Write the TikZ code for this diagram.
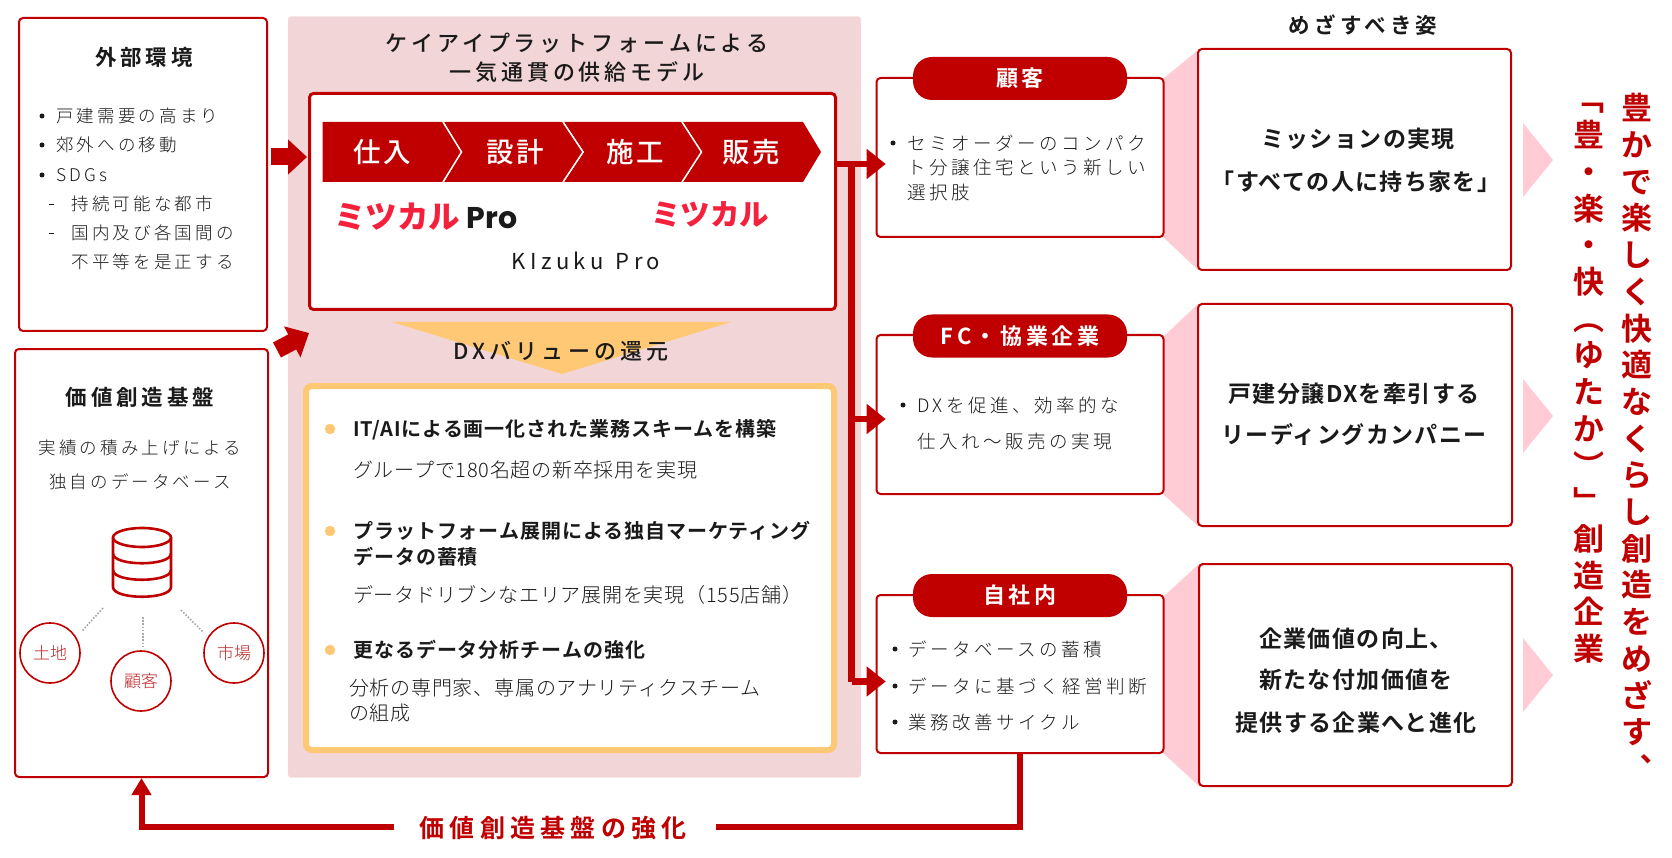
\documentclass[tikz,border=0pt]{standalone}
\usepackage{fontspec}
\usetikzlibrary{arrows.meta}
\setmainfont{Noto Sans CJK JP}
\newfontfamily\jr{Noto Sans CJK JP}
\newfontfamily\jl{Noto Sans CJK JP Light}
\newfontfamily\jm{Noto Sans CJK JP Medium}
\newfontfamily\jb{Noto Sans CJK JP Bold}
\newfontfamily\jk{Noto Sans CJK JP Black}
\newfontfamily\ppn{Poppins}
\definecolor{dred}{HTML}{C00000}
\definecolor{panelpink}{HTML}{F2D5D6}
\definecolor{softpink}{HTML}{FFCCD5}
\definecolor{amber}{HTML}{FFC875}
\definecolor{ink}{HTML}{1A1A1A}
\definecolor{logored}{HTML}{F5203C}
\newcommand{\sz}[2]{\fontsize{#1}{#2}\selectfont}
\newcommand{\ls}[1]{\addfontfeature{LetterSpace=#1}}
\tikzset{
  txt/.style={inner sep=0pt,text=ink,execute at begin node={\rule[-.12em]{0pt}{1em}}},
  ltxt/.style={txt,anchor=west},
  redbox/.style={draw=dred,line width=2pt,rounded corners=4pt,fill=white,inner sep=0pt},
  pill/.style={txt,text=white,fill=dred,rounded corners=19pt,minimum width=214pt,minimum height=43pt,font=\jb\sz{22}{26}\ls{16}},
  body/.style={ltxt,font=\jl\sz{18.5}{22}\ls{19}},
  bodyb/.style={ltxt,font=\jl\sz{17.5}{22}\ls{18}},
  head/.style={txt,font=\jb\sz{21.5}{26}\ls{18}},
  chev/.style={txt,text=white,font=\jm\sz{27.5}{34}\ls{10}},
  bullet/.style={fill=ink,circle,minimum size=5pt,inner sep=0pt},
  dashmark/.style={fill=ink,minimum width=5pt,minimum height=1.2pt,inner sep=0pt},
  odot/.style={fill=amber,circle,minimum size=10.5pt,inner sep=0pt},
  obold/.style={ltxt,font=\jb\sz{20}{24}\ls{4.8}},
  olight/.style={ltxt,font=\jl\sz{20}{24}\ls{3.8}},
  bigt/.style={txt,font=\jb\sz{23}{26}\ls{6}},
  circ/.style={circle,draw=dred,line width=1.6pt,minimum size=60pt,inner sep=0pt,fill=white,text=red!70!black!85,font=\jl\sz{17}{20}},
  busline/.style={draw=dred,line width=6.5pt},
  bustip/.style={-{Triangle[length=19pt,width=29pt]}},
  blockarrow/.style={draw=dred,line width=17pt,-{Triangle[length=19pt,width=34pt]}},
  feedback/.style={draw=dred,line width=6pt},
  dotline/.style={draw=black!35,line width=1.6pt,dash pattern=on 1.6pt off 1.6pt},
  vcol/.style={inner sep=0pt,align=center,text=dred,font=\jb\sz{31}{36.7}}
}
\begin{document}
\begin{tikzpicture}[x=1pt,y=-1pt]
\useasboundingbox (0,0) rectangle (1672,858);
% panel
\node[fill=panelpink,rounded corners=3pt,minimum width=573pt,minimum height=761pt,inner sep=0pt] (panel) at (574.5,397) {};
% left boxes
\node[redbox,minimum width=248pt,minimum height=313pt] (ext) at (143,174.5) {};
\node[redbox,minimum width=253pt,minimum height=428pt] (base) at (141.5,563) {};
\node[head] (extT) at (144,57) {外部環境};
\node[bullet] (b1) at (42,116) {}; \node[bodyb] (b1t) at (56,116) {戸建需要の高まり};
\node[bullet] (b2) at (42,145) {}; \node[bodyb] (b2t) at (56,145) {郊外への移動};
\node[bullet] (b3) at (42,175) {}; \node[bodyb] (b3t) at (56,175) {SDGs};
\node[dashmark] (d1) at (51,204.5) {}; \node[bodyb] (d1t) at (71.5,204) {持続可能な都市};
\node[dashmark] (d2) at (51,233.5) {}; \node[bodyb] (d2t) at (71.5,233) {国内及び各国間の};
\node[bodyb] (d3t) at (71.5,262) {不平等を是正する};
\node[head] (baseT) at (140,397) {価値創造基盤};
\node[txt,font=\jl\sz{17.5}{22}\ls{18}] (baseA) at (140,448) {実績の積み上げによる};
\node[txt,font=\jl\sz{17.5}{22}\ls{18}] (baseB) at (140,482) {独自のデータベース};
% database icon
\begin{scope}[line width=2.6pt]
\draw[dred] (142,537.5) ellipse [x radius=29,y radius=9.5];
\draw[dred] (113,537.5) -- (113,587) .. controls (113,600) and (171,600) .. (171,587) -- (171,537.5);
\draw[dred] (113,553.5) .. controls (113,566.5) and (171,566.5) .. (171,553.5);
\draw[dred] (113,570) .. controls (113,583) and (171,583) .. (171,570);
\end{scope}
\coordinate (dbL) at (103,608); \coordinate (dbC) at (143,617); \coordinate (dbR) at (181,610);
\coordinate (leL) at (82,631); \coordinate (leC) at (143,647); \coordinate (leR) at (203,632);
\draw[dotline] (dbL) -- (leL);
\draw[dotline] (dbC) -- (leC);
\draw[dotline] (dbR) -- (leR);
\node[circ] (land) at (50,653) {土地};
\node[circ] (cust) at (141,681) {顧客};
\node[circ] (mkt) at (234,653) {市場};
% platform
\node[txt,font=\jm\sz{22}{26}\ls{18}] (tt1) at (577,43) {ケイアイプラットフォームによる};
\node[txt,font=\jm\sz{22}{26}\ls{18}] (tt2) at (577,72) {一気通貫の供給モデル};
\node[draw=dred,line width=3pt,rounded corners=4pt,fill=white,minimum width=526pt,minimum height=216pt,inner sep=0pt] (plat) at (572.5,201.5) {};
\fill[dred] (322.5,122) -- (443,122) -- (461,152) -- (443,182) -- (322.5,182) -- cycle;
\fill[dred] (444,122) -- (563,122) -- (583,152) -- (563,182) -- (444,182) -- (462,152) -- cycle;
\fill[dred] (564,122) -- (682,122) -- (701,152) -- (682,182) -- (564,182) -- (584,152) -- cycle;
\fill[dred] (683,122) -- (803,122) -- (821,152) -- (803,182) -- (683,182) -- (702,152) -- cycle;
\draw[white,line width=1.5pt] (443,122) -- (461.5,152) -- (443,182);
\draw[white,line width=1.5pt] (563,122) -- (583,152) -- (563,182);
\draw[white,line width=1.5pt] (682,122) -- (701.5,152) -- (682,182);
\node[chev] (c1) at (382,152) {仕入};
\node[chev] (c2) at (515.5,152) {設計};
\node[chev] (c3) at (635,152) {施工};
\node[chev] (c4) at (751,152) {販売};
\node[inner sep=0pt,text=logored,font=\jk\sz{31.5}{34}] (lg1) at (397,217) {ミツカル};
\node[inner sep=0pt,text=ink,font=\ppn\bfseries\sz{30}{34}] (lg1b) at (492,218) {Pro};
\node[inner sep=0pt,text=logored,font=\jk\sz{29.5}{34}] (lg2) at (710,214) {ミツカル};
\node[txt,font=\jr\sz{22}{26}\ls{20}] (kz) at (586,261) {KIzuku\hspace{3pt} Pro};
% DX triangle
\fill[amber] (392,322) -- (731,322) -- (562,374) -- cycle;
\node[txt,font=\jm\sz{22}{26}\ls{19}] (dx) at (561,351) {DXバリューの還元};
% orange box
\node[draw=amber,line width=6pt,rounded corners=6pt,fill=white,minimum width=528pt,minimum height=364pt,inner sep=0pt] (obox) at (570,568) {};
\node[odot] (o1) at (330,429) {};
\node[odot] (o2) at (330,531) {};
\node[odot] (o3) at (330,650) {};
\node[obold] (o1a) at (353,430) {IT/AIによる画一化された業務スキームを構築};
\node[olight] (o1b) at (353,470) {グループで180名超の新卒採用を実現};
\node[obold] (o2a) at (353,531) {プラットフォーム展開による独自マーケティング};
\node[obold] (o2b) at (353,557) {データの蓄積};
\node[olight] (o2c) at (353,595) {データドリブンなエリア展開を実現（155店舗）};
\node[obold] (o3a) at (353,650) {更なるデータ分析チームの強化};
\node[olight] (o3b) at (349,688) {分析の専門家、専属のアナリティクスチーム};
\node[olight] (o3c) at (349,713) {の組成};
% trapezoids
\fill[softpink] (1163,79) -- (1198,50) -- (1198,270) -- (1163,237) -- cycle;
\fill[softpink] (1163,337) -- (1198,304) -- (1198,526) -- (1163,494) -- cycle;
\fill[softpink] (1163,597) -- (1199,564) -- (1199,786) -- (1163,753) -- cycle;
% customer boxes
\node[redbox,minimum width=287pt,minimum height=159pt] (ca) at (1020,157.5) {};
\node[redbox,minimum width=287pt,minimum height=159pt] (cb) at (1020,414.5) {};
\node[redbox,minimum width=287pt,minimum height=158pt] (cc) at (1020,674) {};
\node[pill] (pa) at (1020,78.5) {顧客};
\node[pill] (pb) at (1020,336) {FC・協業企業};
\node[pill] (pc) at (1020,595.5) {自社内};
\node[bullet] (ab) at (893,143) {};
\node[body] (a1) at (907,143) {セミオーダーのコンパク};
\node[body] (a2) at (907,167) {ト分譲住宅という新しい};
\node[body] (a3) at (907,192) {選択肢};
\node[bullet] (bb) at (903,405) {};
\node[body] (b1x) at (917,405) {DXを促進、効率的な};
\node[body] (b2x) at (917,441) {仕入れ～販売の実現};
\node[bullet] (cb1) at (895,649) {}; \node[body] (c1x) at (908,649) {データベースの蓄積};
\node[bullet] (cb2) at (895,686) {}; \node[body] (c2x) at (908,686) {データに基づく経営判断};
\node[bullet] (cb3) at (895,722) {}; \node[body] (c3x) at (908,722) {業務改善サイクル};
% big boxes
\node[redbox,minimum width=313pt,minimum height=221pt] (ga) at (1354.5,159.5) {};
\node[redbox,minimum width=314pt,minimum height=222pt] (gb) at (1355,415) {};
\node[redbox,minimum width=313pt,minimum height=222pt] (gc) at (1355.5,675) {};
\node[txt,font=\jb\sz{21.5}{26}\ls{20}] (goal) at (1363,25) {めざすべき姿};
\node[bigt] (g1) at (1358,139) {ミッションの実現};
\node[bigt] (g2) at (1356,182) {「すべての人に持ち家を」};
\node[bigt] (g3) at (1354,393.5) {戸建分譲DXを牽引する};
\node[bigt] (g4) at (1354,435) {リーディングカンパニー};
\node[bigt] (g5) at (1356,639) {企業価値の向上、};
\node[bigt] (g6) at (1356,680) {新たな付加価値を};
\node[bigt] (g7) at (1356,723) {提供する企業へと進化};
% triangles
\fill[softpink] (1523,123) -- (1553,160) -- (1523,197) -- cycle;
\fill[softpink] (1523,379) -- (1553,416) -- (1523,453) -- cycle;
\fill[softpink] (1523,638) -- (1553,675) -- (1523,712) -- cycle;
% vertical text
\node[vcol] (v1) at (1637,437) {豊\\か\\で\\楽\\し\\く\\快\\適\\な\\く\\ら\\し\\創\\造\\を\\め\\ざ\\す\\︑};
\node[vcol] (v2) at (1589,383) {﹁\\豊\\・\\楽\\・\\快\\︵\\ゆ\\た\\か\\︶\\﹂\\創\\造\\企\\業};
% arrows
\coordinate (arrS) at (270.5,157);
\coordinate (arrE) at (307,157);
\draw[blockarrow] (arrS) -- (arrE);
\coordinate (arrT) at (277,350);
\coordinate (arrH) at (309,333);
\draw[blockarrow] (arrT) -- (arrH);
\coordinate (busT) at (851.5,164);
\coordinate (busB) at (851.5,681.5);
\coordinate (ta) at (885.7,164);
\coordinate (tb) at (885.7,419);
\coordinate (tc) at (885.7,681.5);
\draw[busline,bustip] (plat.east |- busT) -- (ta);
\draw[busline] (busT) -- (busB);
\draw[busline,bustip] (busT |- tb) -- (tb);
\draw[busline,bustip] (busB) -- (tc);
% feedback
\coordinate (fbR) at (716,826.5);
\coordinate (fbL) at (394,826.5);
\node[txt,text=dred,font=\jb\sz{25}{28}\ls{21}] (fbT) at (553,828) {価値創造基盤の強化};
\draw[feedback] (cc.south) |- (fbR);
\draw[feedback,-{Triangle[length=17pt,width=19pt]}] (fbL) -| (base.south);
\end{tikzpicture}
\end{document}
